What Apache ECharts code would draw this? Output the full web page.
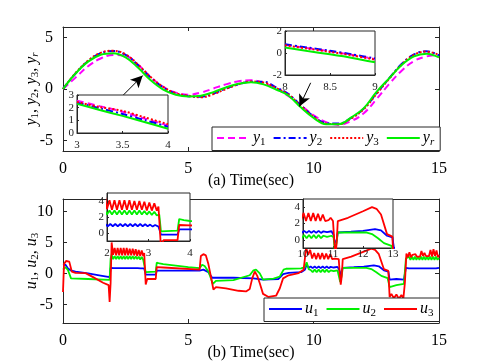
<!DOCTYPE html>
<html><head><meta charset="utf-8">
<script src="https://cdn.jsdelivr.net/npm/echarts@6/dist/echarts.min.js"></script>
<style>html,body{margin:0;padding:0;background:#fff}#c{width:485px;height:363px}</style>
</head><body><div id="c"></div>
<script>
// ---------- data: top panel (a) ----------
const tTop = [0,0.5,1,1.5,2,2.5,3,3.5,4,4.5,5,5.5,6,6.5,7,7.5,8,8.5,9,9.5,10,10.5,11,11.5,12,12.5,13,13.5,14,14.5,15];
const y1 = [0,1.1,2.2,2.95,3.3,3.2,2.35,1.15,0.2,-0.35,-0.55,-0.35,0.05,0.45,0.75,0.85,0.6,0.05,-0.7,-1.6,-2.55,-3.2,-3.45,-3.1,-2.35,-1.0,0.45,1.75,2.7,3.15,3.3];
const y2 = [0,1.5,2.7,3.45,3.68,3.3,2.3,1.1,0.15,-0.45,-0.7,-0.75,-0.45,0.05,0.45,0.7,0.7,0.15,-0.5,-1.6,-2.65,-3.3,-3.35,-2.8,-1.9,-0.45,1.0,2.4,3.35,3.65,3.25];
const y3 = [0,1.55,2.75,3.5,3.7,3.35,2.35,1.15,0.2,-0.4,-0.65,-0.8,-0.5,0.0,0.45,0.72,0.62,0.1,-0.55,-1.65,-2.7,-3.35,-3.4,-2.85,-1.95,-0.5,0.95,2.35,3.3,3.62,3.3];
const yr = [0,1.5,2.65,3.32,3.47,3.05,2.05,0.85,-0.05,-0.55,-0.72,-0.65,-0.3,0.15,0.5,0.65,0.45,-0.05,-0.65,-1.8,-2.8,-3.4,-3.4,-2.75,-1.85,-0.3,1.0,2.3,3.15,3.42,3.06];
// inset A (3..4 s) and inset B (8..9 s)
const tInsA = [3,3.25,3.5,3.75,4];
const insA_y1 = [2.55,2.12,1.68,1.12,0.6];
const insA_y2 = [2.4,1.95,1.5,1.0,0.5];
const insA_y3 = [2.45,2.05,1.75,1.22,0.7];
const insA_yr = [2.3,1.82,1.35,0.85,0.33];
const tInsB = [8,8.25,8.5,8.75,9];
const insB_y1 = [0.75,0.45,0.15,-0.18,-0.55];
const insB_y2 = [0.8,0.5,0.2,-0.13,-0.5];
const insB_y3 = [0.7,0.4,0.1,-0.22,-0.6];
const insB_yr = [0.5,0.18,-0.12,-0.45,-0.85];
// arrows (data coordinates of panel a)
const arrowA = [[2.38,-0.65],[3.18,1.3]];
const arrowB = [[9.88,0.6],[9.43,-1.7]];

// ---------- data: bottom panel (b) [time, value] ----------
const u1 = [[0,1.3],[0.1,1.4],[0.2,0.8],[0.3,0.5],[0.5,0.3],[1.0,0.0],[1.5,-0.35],[1.86,-0.6],[1.9,0.9],
[1.96,1.1],[2.02,0.85],[2.08,1.12],[2.14,0.85],[2.2,1.12],[2.26,0.85],[2.32,1.12],[2.38,0.85],[2.44,1.12],[2.5,0.85],[2.56,1.12],[2.62,0.85],[2.68,1.12],[2.74,0.85],[2.8,1.12],[2.86,0.85],[2.92,1.1],[2.98,0.85],[3.04,1.05],[3.1,0.8],[3.16,1.0],[3.24,0.8],
[3.3,-0.2],[3.7,-0.2],[3.74,0.45],[5.45,0.45],[5.6,0.6],[5.8,0.2],[5.95,-0.7],[6.8,-0.7],[7.6,-0.8],[7.98,-1.0],[8.6,-0.9],[8.78,-0.1],[9.0,0.1],[9.5,0.2],[9.65,0.6],
[9.72,1.4],[9.8,0.9],[9.88,1.1],[9.96,0.85],[10.04,1.1],[10.12,0.85],[10.2,1.1],[10.28,0.85],[10.36,1.1],[10.44,0.85],[10.52,1.1],[10.6,0.85],[10.68,1.05],[10.8,0.95],[10.95,1.05],[11.02,0.6],[11.06,-0.4],[11.12,-0.1],[11.16,0.9],[11.6,1.0],[12.0,1.1],[12.4,1.3],[12.6,1.15],[12.8,0.5],[12.98,0.3],[13.03,-1.0],[13.3,-0.9],[13.6,-1.0],[13.68,0.9],
[13.74,1.1],[13.8,0.8],[13.86,1.1],[13.92,0.8],[13.98,1.1],[14.04,0.8],[14.1,1.1],[14.16,0.8],[14.22,1.1],[14.28,0.8],[14.34,1.1],[14.4,0.8],[14.46,1.1],[14.52,0.8],[14.58,1.1],[14.64,0.8],[14.7,1.1],[14.76,0.8],[14.82,1.1],[14.88,0.8],[14.94,1.1],[15,0.9]];
const u2 = [[0,0.6],[0.1,1.0],[0.2,0.5],[0.32,-0.8],[1.0,-0.9],[1.86,-1.05],[1.9,2.4],[1.94,3.0],
[2.0,2.3],[2.06,2.8],[2.12,2.3],[2.18,2.8],[2.24,2.3],[2.3,2.8],[2.36,2.3],[2.42,2.8],[2.48,2.3],[2.54,2.8],[2.6,2.3],[2.66,2.8],[2.72,2.3],[2.78,2.8],[2.84,2.3],[2.9,2.75],[2.96,2.3],[3.02,2.7],[3.08,2.25],[3.14,2.65],[3.2,2.2],[3.26,2.3],
[3.3,0.2],[3.7,0.3],[3.74,1.75],[3.85,1.6],[4.0,1.5],[4.5,1.25],[5.0,1.0],[5.45,0.85],[5.55,1.4],[5.65,1.2],[5.8,0.3],[5.98,-1.7],[6.1,-1.2],[6.8,-1.1],[7.45,-0.3],[7.6,0.5],[7.7,0.6],[7.85,0.0],[7.98,-1.0],[8.4,-0.85],[8.65,-0.5],[8.8,0.6],[8.9,0.75],[9.5,0.8],[9.65,1.0],
[9.72,1.8],[9.8,0.7],[9.88,0.55],[9.96,0.2],[10.04,0.6],[10.12,0.2],[10.2,0.6],[10.28,0.2],[10.36,0.6],[10.44,0.2],[10.52,0.6],[10.6,0.2],[10.68,0.5],[10.8,0.35],[10.95,0.5],[11.02,0.3],[11.06,-1.4],[11.12,-0.3],[11.16,0.9],[12.1,0.9],[12.3,0.7],[12.5,0.2],[12.7,-0.4],[12.95,-0.75],[13.03,-2.2],[13.3,-1.9],[13.6,-1.7],[13.68,2.4],
[13.74,2.1],[13.8,2.7],[13.86,2.2],[13.92,2.7],[13.98,2.2],[14.04,2.7],[14.1,2.2],[14.16,2.7],[14.22,2.2],[14.28,2.7],[14.34,2.2],[14.4,2.7],[14.46,2.2],[14.52,2.7],[14.58,2.2],[14.64,2.7],[14.7,2.2],[14.76,2.7],[14.82,2.2],[14.88,2.7],[14.94,2.2],[15,2.5]];
const u3 = [[0,-3.0],[0.04,1.5],[0.12,2.0],[0.25,1.9],[0.35,0.3],[0.5,0.1],[0.9,0.05],[1.2,-0.6],[1.6,-1.5],[1.82,-1.9],[1.86,-4.6],[1.9,-1.5],[1.94,5.0],
[2.0,3.0],[2.06,4.1],[2.12,2.9],[2.18,4.1],[2.24,2.9],[2.3,4.1],[2.36,2.9],[2.42,4.1],[2.48,2.9],[2.54,4.1],[2.6,2.9],[2.66,4.0],[2.72,2.9],[2.78,4.0],[2.84,2.9],[2.9,3.9],[2.96,2.8],[3.02,3.8],[3.08,2.8],[3.14,3.7],[3.2,2.8],[3.24,3.3],
[3.3,-1.8],[3.36,-0.9],[3.7,-0.9],[3.74,1.0],[4.0,0.95],[5.45,0.6],[5.5,2.8],[5.6,3.1],[5.7,2.9],[5.8,1.5],[5.9,-0.5],[6.0,-2.6],[6.1,-2.2],[6.5,-2.4],[7.0,-2.8],[7.3,-2.9],[7.45,-2.5],[7.55,-0.8],[7.65,0.3],[7.75,-0.4],[7.85,-1.6],[7.98,-3.3],[8.2,-3.8],[8.5,-3.6],[8.65,-2.4],[8.78,-0.8],[9.0,-0.3],[9.4,0.05],[9.6,0.6],
[9.7,4.2],[9.78,3.0],[9.86,3.8],[9.94,2.4],[10.02,3.3],[10.1,2.3],[10.18,3.3],[10.26,2.3],[10.34,3.3],[10.42,2.3],[10.5,3.2],[10.58,2.3],[10.66,3.1],[10.74,2.3],[10.85,2.4],[10.92,2.7],[11.0,2.3],[11.04,0.0],[11.08,-1.8],[11.12,-0.5],[11.16,2.3],[11.5,2.7],[12.0,3.5],[12.3,4.0],[12.45,3.8],[12.6,3.1],[12.8,0.7],[12.98,0.4],[13.03,-3.8],
[13.1,-3.3],[13.2,-4.0],[13.3,-3.4],[13.4,-4.1],[13.5,-3.5],[13.58,-4.0],[13.64,-1.5],[13.7,3.2],[13.76,2.6],[13.82,3.4],[13.88,2.6],[13.94,3.0],[14.0,2.7],[14.06,3.1],[14.12,2.7],[14.18,3.0],[14.24,2.7],[14.3,3.6],[14.36,2.8],[14.42,3.3],[14.48,2.8],[14.54,3.1],[14.6,2.8],[14.66,3.8],[14.72,2.7],[14.78,3.9],[14.84,2.8],[14.9,3.7],[14.96,2.6],[15,3.0]];

// ---------- tick labels ----------
const xTicksMain = [0,5,10,15];
const yTicksA = [-5,0,5];
const yTicksB = [-5,0,5,10];
const yTicksInsetU = [0,2,4];
const xNameA = '(a) Time(sec)';
const xNameB = '(b) Time(sec)';

// ---------- build ----------
const FONT = 'Liberation Serif';
const AX = '#262626';
const C = {y1:'#ff00ff', y2:'#0000ff', y3:'#ff0000', yr:'#00f000', u1:'#0000ff', u2:'#00f000', u3:'#ff0000'};
const DASH = {y1:[7,4], y2:[7,3,2,3], y3:[2,2], yr:'solid', u1:'solid', u2:'solid', u3:'solid'};
const rich = {
  i:{fontFamily:FONT, fontStyle:'italic', fontSize:16, color:'#000'},
  s:{fontFamily:FONT, fontSize:11, color:'#000', padding:[8,0,0,0]},
  si:{fontFamily:FONT, fontSize:11, fontStyle:'italic', color:'#000', padding:[8,0,0,0]},
  c:{fontFamily:FONT, fontSize:16, color:'#000'}
};
const sub = n => '{i|' + n[0] + '}{' + (/\d/.test(n[1]) ? 's' : 'si') + '|' + n.slice(1) + '}';
const pair = (ts, vs) => ts.map((t,i)=>[t, vs[i]]);

function xAx(grid, min, max, opts) {
  return Object.assign({
    type:'value', gridIndex:grid, min:min, max:max, position:'bottom',
    axisLine:{show:true, onZero:false, lineStyle:{color:AX, width:1}},
    axisTick:{show:true, inside:true, length:4, lineStyle:{color:AX}},
    splitLine:{show:false},
    axisLabel:{show:true, fontFamily:FONT, fontSize:16, color:'#000', margin:10}
  }, opts || {});
}
function yAx(grid, min, max, opts) {
  return Object.assign({
    type:'value', gridIndex:grid, min:min, max:max, position:'left',
    axisLine:{show:true, onZero:false, lineStyle:{color:AX, width:1}},
    axisTick:{show:true, inside:true, length:4, lineStyle:{color:AX}},
    splitLine:{show:false},
    axisLabel:{show:true, fontFamily:FONT, fontSize:16, color:'#000', margin:10}
  }, opts || {});
}
const insetLbl = (m) => ({show:true, fontFamily:FONT, fontSize:11, color:'#222', margin:m});
const noLbl = {show:false};
const inTick = {show:true,inside:true,length:2,lineStyle:{color:AX}};

const xAxis = [
  xAx(0,0,15,{interval:5, name:xNameA, nameLocation:'middle', nameGap:22, nameMoveOverlap:false, nameTextStyle:{fontFamily:FONT, fontSize:16, color:'#000', verticalAlign:'top'}}),
  xAx(0,0,15,{interval:5, position:'top', axisLabel:noLbl}),
  xAx(1,0,15,{interval:5, name:xNameB, nameLocation:'middle', nameGap:22, nameMoveOverlap:false, nameTextStyle:{fontFamily:FONT, fontSize:16, color:'#000', verticalAlign:'top'}}),
  xAx(1,0,15,{interval:5, position:'top', axisLabel:noLbl}),
  xAx(2,3,4,{interval:0.5, z:11, axisLabel:insetLbl(7), axisTick:inTick}),
  xAx(3,8,9,{interval:0.5, z:11, axisLabel:insetLbl(7), axisTick:inTick}),
  xAx(4,2,4,{interval:1, z:11, axisLabel:insetLbl(7), axisTick:inTick}),
  xAx(5,10,13,{interval:1, z:11, axisLabel:insetLbl(1), axisTick:inTick})
];
const yNameA = '{i|y}{s|1}{c|, }{i|y}{s|2}{c|, }{i|y}{s|3}{c|, }{i|y}{si|r}';
const yNameB = '{i|u}{s|1}{c|, }{i|u}{s|2}{c|, }{i|u}{s|3}';
const yAxis = [
  yAx(0,-6,6,{axisLabel:{show:true, fontFamily:FONT, fontSize:16, color:'#000', margin:10, customValues:yTicksA}, axisTick:{show:true,inside:true,length:4,lineStyle:{color:AX},customValues:yTicksA},
    name:yNameA, nameLocation:'middle', nameGap:22, nameMoveOverlap:false, nameRotate:90, nameTextStyle:{rich:rich}}),
  yAx(0,-6,6,{position:'right', axisLabel:noLbl, axisTick:{show:true,inside:true,length:4,lineStyle:{color:AX},customValues:yTicksA}}),
  yAx(1,-8,12,{axisLabel:{show:true, fontFamily:FONT, fontSize:16, color:'#000', margin:10, customValues:yTicksB}, axisTick:{show:true,inside:true,length:4,lineStyle:{color:AX},customValues:yTicksB},
    name:yNameB, nameLocation:'middle', nameGap:22, nameMoveOverlap:false, nameRotate:90, nameTextStyle:{rich:rich}}),
  yAx(1,-8,12,{position:'right', axisLabel:noLbl, axisTick:{show:true,inside:true,length:4,lineStyle:{color:AX},customValues:yTicksB}}),
  yAx(2,0,3,{interval:1, z:11, axisLabel:insetLbl(3), axisTick:inTick}),
  yAx(3,-2,2,{interval:2, z:11, axisLabel:insetLbl(3), axisTick:inTick}),
  yAx(4,-1,5,{z:11, axisLabel:Object.assign(insetLbl(3),{customValues:yTicksInsetU}), axisTick:Object.assign({},inTick,{customValues:yTicksInsetU})}),
  yAx(5,-1,5,{z:11, axisLabel:Object.assign(insetLbl(3),{customValues:yTicksInsetU}), axisTick:Object.assign({},inTick,{customValues:yTicksInsetU})})
];
const insetGrid = (l,t,w,h) => ({left:l, top:t, width:w, height:h, show:true, backgroundColor:'#fff', borderColor:AX, borderWidth:1, z:10});
const grid = [
  {left:63, top:27, width:376, height:124},
  {left:63, top:199, width:376, height:124},
  insetGrid(77,95,91,38),
  insetGrid(285,31,90,44),
  insetGrid(107,193,83,48),
  insetGrid(303,199,90,49)
];

function line(name, data, xi, yi, z, smooth, width) {
  return {type:'line', name:name, data:data, xAxisIndex:xi, yAxisIndex:yi, showSymbol:false, symbol:'none',
    smooth:smooth, z:z, clip:true, animation:false,
    lineStyle:{color:C[name], width:width, type:DASH[name]}, itemStyle:{color:C[name]}};
}
const series = [];
const topMain = {y1:y1, y2:y2, y3:y3, yr:yr};
const topA = {y1:insA_y1, y2:insA_y2, y3:insA_y3, yr:insA_yr};
const topB = {y1:insB_y1, y2:insB_y2, y3:insB_y3, yr:insB_yr};
['y1','y2','y3','yr'].forEach(n => series.push(line(n, pair(tTop, topMain[n]), 0, 0, 2, 0.4, 2)));
series[3].markLine = {silent:true, symbol:['none','arrow'], symbolSize:[9,12], animation:false,
  lineStyle:{color:'#000', width:1, type:'solid'}, label:{show:false}, z:5,
  data:[[{coord:arrowA[0]},{coord:arrowA[1]}],[{coord:arrowB[0]},{coord:arrowB[1]}]]};
['y1','y2','y3','yr'].forEach(n => series.push(line(n, pair(tInsA, topA[n]), 4, 4, 12, 0.3, 2)));
['y1','y2','y3','yr'].forEach(n => series.push(line(n, pair(tInsB, topB[n]), 5, 5, 12, 0.3, 2)));
const bot = {u1:u1, u2:u2, u3:u3};
['u1','u2','u3'].forEach(n => series.push(line(n, bot[n], 2, 2, 2, false, 1.8)));
['u1','u2','u3'].forEach(n => series.push(line(n, bot[n], 6, 6, 12, false, 1.8)));
['u1','u2','u3'].forEach(n => series.push(line(n, bot[n], 7, 7, 12, false, 1.8)));

const legendBase = {orient:'horizontal', itemWidth:33, itemHeight:12, itemGap:6,
  backgroundColor:'#fff', borderColor:AX, borderWidth:1, borderRadius:0, padding:[3,6,3,4],
  itemStyle:{opacity:0, borderWidth:0},
  formatter:sub, textStyle:{rich:rich, padding:[0,0,0,-2]}, selectedMode:false, z:20};
const legend = [
  Object.assign({}, legendBase, {left:212, top:127, data:['y1','y2','y3','yr'], itemGap:7}),
  Object.assign({}, legendBase, {left:264, top:298, data:['u1','u2','u3'], itemGap:7})
];

const chart = echarts.init(document.getElementById('c'), null, {renderer:'canvas'});
chart.setOption({animation:false, backgroundColor:'#fff', grid:grid, xAxis:xAxis, yAxis:yAxis, series:series, legend:legend});
</script></body></html>
